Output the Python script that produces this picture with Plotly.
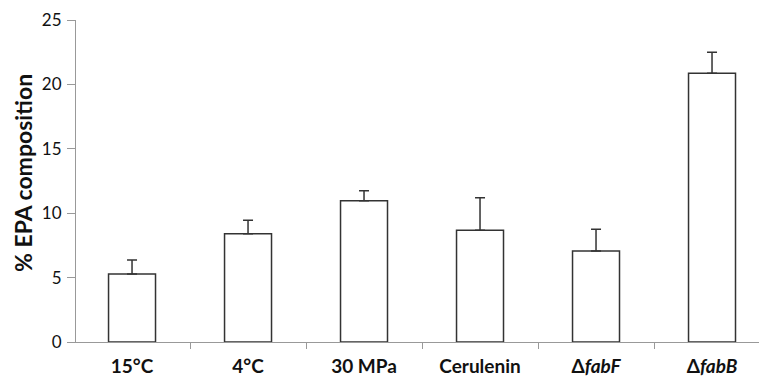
import plotly.graph_objects as go

categories = ["<b>15°C</b>", "<b>4°C</b>", "<b>30 MPa</b>", "<b>Cerulenin</b>",
              "<b>Δ<i>fabF</i></b>", "<b>Δ<i>fabB</i></b>"]
values = [5.28, 8.41, 10.97, 8.67, 7.07, 20.86]
errors = [1.09, 1.04, 0.78, 2.53, 1.68, 1.64]
y_ticks = [0, 5, 10, 15, 20, 25]
y_title = "<b>% EPA composition</b>"

font_family = "Lato, 'Open Sans', sans-serif"

fig = go.Figure(go.Bar(
    x=categories, y=values, width=0.405,
    marker=dict(color="white", line=dict(color="#333333", width=1.5)),
    error_y=dict(type="data", array=errors, symmetric=False, arrayminus=[0]*6,
                 color="#333333", thickness=1.5, width=5),
))

fig.update_layout(
    width=759, height=379,
    margin=dict(l=76, r=0, t=20, b=37),
    paper_bgcolor="white", plot_bgcolor="white",
    showlegend=False,
    font=dict(family=font_family, color="#111111"),
    xaxis=dict(
        range=[-0.483, 5.405], tickson="boundaries", ticks="outside", ticklen=6,
        tickcolor="#999999", showline=True, linecolor="#999999", linewidth=1,
        showgrid=False, ticklabelstandoff=7, automargin=False,
        tickfont=dict(size=19, family=font_family, color="#111111"),
    ),
    yaxis=dict(
        range=[0, 25], tickvals=y_ticks, ticks="outside", ticklen=8,
        tickcolor="#999999", showline=True, linecolor="#999999", linewidth=1,
        showgrid=False, zeroline=False, ticklabelstandoff=2, automargin=False,
        tickfont=dict(size=17, family=font_family, color="#111111"),
    ),
    annotations=[dict(
        text=y_title, textangle=-90, xref="paper", yref="paper",
        x=(23 - 76) / 683, y=(342 - 173) / 322, xanchor="center", yanchor="middle",
        showarrow=False, font=dict(size=23, family=font_family, color="#111111"),
    )],
)

fig.write_html("out.html")
